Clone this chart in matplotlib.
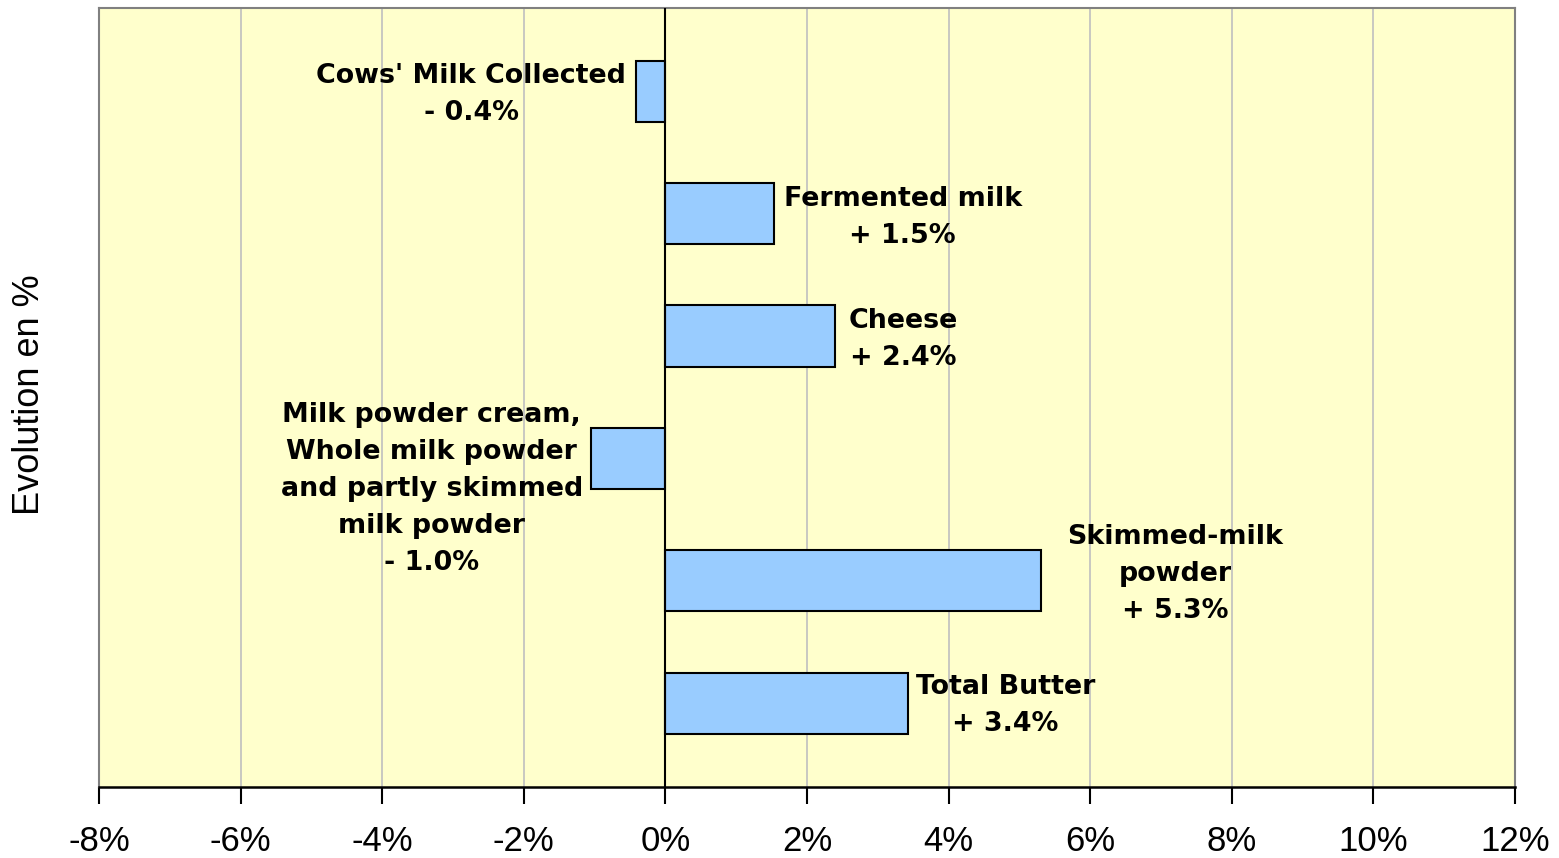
import numpy as np
import matplotlib.pyplot as plt

labels = ["Cows' Milk Collected\n- 0.4%",
          "Fermented milk\n+ 1.5%",
          "Cheese\n+ 2.4%",
          "Milk powder cream,\nWhole milk powder\nand partly skimmed\nmilk powder\n- 1.0%",
          "Skimmed-milk\npowder\n+ 5.3%",
          "Total Butter\n+ 3.4%"]
values = np.array([-0.42, 1.53, 2.40, -1.05, 5.31, 3.42])
label_x = np.array([-2.74, 3.35, 3.36, -3.3, 7.2, 4.8])
label_y = np.array([0.03, 0.03, 0.03, 0.25, -0.06, 0.02])
ticks = np.arange(-8, 13, 2)

fig = plt.figure(figsize=(15.59, 8.58), dpi=100)
ax = fig.add_axes([99 / 1559, 1 - 786.5 / 858, (1515 - 99) / 1559, (786.5 - 8) / 858])
ax.set_facecolor('#FFFFCC')

y = np.arange(len(values))
ax.barh(y, values, height=0.5, color='#99CCFF', edgecolor='black', linewidth=1.5, zorder=3)
ax.axvline(0, color='black', linewidth=1.5, zorder=4)

for i, txt in enumerate(labels):
    ax.text(label_x[i], y[i] + label_y[i], txt, ha='center', va='center',
            fontsize=19.4, fontweight='bold', family='DejaVu Sans',
            linespacing=1.55, zorder=5)

ax.set_xlim(-8, 12)
ax.set_ylim(5.68, -0.68)
ax.set_xticks(ticks)
ax.set_xticklabels([f"{t}%" for t in ticks], fontsize=25, family='Liberation Sans')
ax.set_yticks([])
ax.grid(axis='x', color='#BFBFBF', linewidth=1.2, zorder=0)
ax.tick_params(axis='x', direction='out', length=12, width=1.5, pad=16)

for s in ['top', 'left', 'right']:
    ax.spines[s].set_color('#808080')
    ax.spines[s].set_linewidth(1.5)
ax.spines['bottom'].set_color('black')
ax.spines['bottom'].set_linewidth(1.8)

fig.text(30 / 1559, 1 - 395 / 858, "Evolution en %", rotation=90, ha='center', va='center',
         fontsize=26, family='Liberation Sans')

fig.savefig('out.png', dpi=100)
